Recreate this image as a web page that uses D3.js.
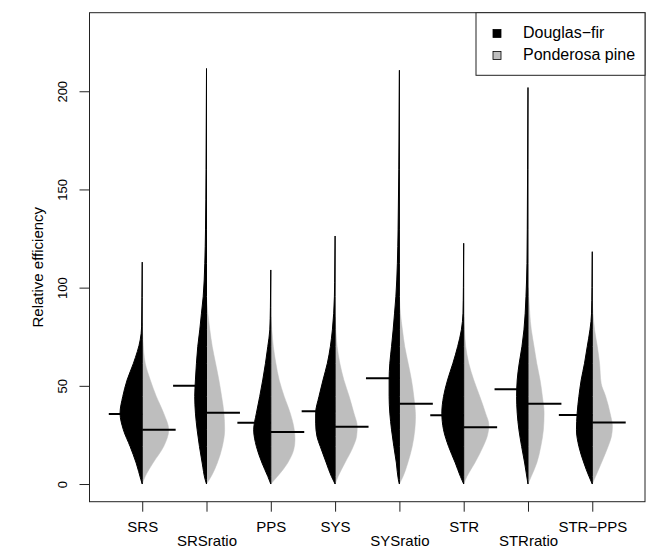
<!DOCTYPE html>
<html>
<head>
<meta charset="utf-8">
<script src="https://cdn.jsdelivr.net/npm/d3@7"></script>
<style>
    body { margin: 0; background: #fff; }
    text { font-family: "Liberation Sans", Arial, sans-serif; }
</style>
</head>
<body>
<div id="chart"></div>
<script>
// sampling designs on the x axis
const categories = ['SRS', 'SRSratio', 'PPS', 'SYS', 'SYSratio', 'STR', 'STRratio', 'STR\u2212PPS'];
// the ratio estimators sit on a second label line
const labelLine = [0, 1, 0, 0, 1, 0, 1, 0];

// bean lines (means) per species
const douglasMean = [35.6, 50.0, 31.2, 37.0, 53.8, 35.0, 48.3, 35.1];
const ponderosaMean = [27.6, 36.3, 26.5, 29.2, 40.9, 28.9, 40.9, 31.3];

// density outlines: [relative efficiency, density]
const douglasDensity = [
    [[0, 0], [2.2, 0.0013], [10.7, 0.006], [19.1, 0.012], [27.6, 0.0187], [36.1, 0.022], [44.6, 0.0193], [53, 0.015], [61.5, 0.0087], [73.4, 0.002], [80, 0.0006], [95, 0.0003], [113, 0]],
    [[0, 0], [2.2, 0.0013], [10.7, 0.0043], [19.1, 0.007], [27.6, 0.0093], [36.1, 0.011], [44.6, 0.0117], [53, 0.011], [61.5, 0.01], [70, 0.0087], [78.5, 0.0067], [87, 0.005], [95.4, 0.0033], [112.4, 0.0017], [129.4, 0.001], [160, 0.0005], [211.6, 0]],
    [[0, 0], [3.9, 0.003], [10.7, 0.0087], [19.1, 0.0143], [27.6, 0.017], [36.1, 0.0143], [44.6, 0.011], [53, 0.008], [61.5, 0.0053], [70, 0.003], [78.5, 0.001], [90, 0.0004], [109, 0]],
    [[0, 0], [3.9, 0.0037], [10.7, 0.0087], [19.1, 0.0147], [24.2, 0.018], [31, 0.0193], [36.1, 0.0193], [44.6, 0.016], [53, 0.012], [61.5, 0.0077], [70, 0.0047], [78.5, 0.0027], [95.4, 0.0007], [110, 0.0003], [126.3, 0]],
    [[0, 0], [2.2, 0.001], [10.7, 0.003], [19.1, 0.0055], [27.6, 0.0078], [36.1, 0.0095], [44.6, 0.0102], [53, 0.0102], [61.5, 0.0095], [70, 0.0078], [78.5, 0.0062], [87, 0.0048], [95.4, 0.0035], [112.4, 0.002], [129.4, 0.0013], [160, 0.0006], [210.7, 0]],
    [[0, 0], [3.9, 0.0033], [10.7, 0.0083], [19.1, 0.015], [27.6, 0.02], [36.1, 0.0217], [44.6, 0.02], [53, 0.016], [61.5, 0.0107], [70, 0.006], [78.5, 0.0023], [87, 0.0007], [100, 0.0003], [122.6, 0]],
    [[0, 0], [2.2, 0.0007], [10.7, 0.0033], [19.1, 0.0063], [27.6, 0.009], [36.1, 0.0107], [44.6, 0.0113], [53, 0.0107], [61.5, 0.0087], [70, 0.006], [78.5, 0.004], [95.4, 0.002], [112.4, 0.001], [129.4, 0.0007], [160, 0.0004], [201.9, 0]],
    [[0, 0], [3.9, 0.0033], [10.7, 0.0083], [19.1, 0.0133], [27.6, 0.0157], [36.1, 0.015], [44.6, 0.0133], [53, 0.011], [61.5, 0.0077], [70, 0.005], [78.5, 0.0023], [87, 0.0007], [100, 0.0003], [118.3, 0]],
];
const ponderosaDensity = [
    [[0, 0], [3.9, 0.003], [10.7, 0.0107], [19.1, 0.0213], [27.6, 0.0263], [36.1, 0.0213], [44.6, 0.014], [53, 0.008], [61.5, 0.003], [73.4, 0.0007], [82, 0]],
    [[0, 0], [3.9, 0.0047], [10.7, 0.0107], [19.1, 0.0157], [27.6, 0.018], [36.1, 0.0173], [44.6, 0.015], [53, 0.0123], [61.5, 0.009], [70, 0.0057], [78.5, 0.0033], [87, 0.0013], [95, 0]],
    [[0, 0], [3.9, 0.0067], [10.7, 0.0167], [17.4, 0.0227], [22.5, 0.024], [27.6, 0.0233], [36.1, 0.0193], [44.6, 0.0133], [53, 0.0083], [61.5, 0.005], [70, 0.0025], [78.5, 0.001], [85, 0]],
    [[0, 0], [3.9, 0.003], [10.7, 0.0097], [19.1, 0.018], [24.2, 0.0213], [29.3, 0.022], [36.1, 0.0187], [44.6, 0.014], [53, 0.0087], [61.5, 0.0047], [70, 0.002], [78.5, 0.0007], [85, 0]],
    [[0, 0], [3.9, 0.0037], [10.7, 0.0083], [19.1, 0.0127], [27.6, 0.0153], [34.4, 0.016], [44.6, 0.0143], [53, 0.012], [61.5, 0.0087], [70, 0.0053], [78.5, 0.003], [87, 0.001], [95, 0]],
    [[0, 0], [3.9, 0.0033], [10.7, 0.011], [19.1, 0.0193], [24.2, 0.0233], [30.2, 0.025], [36.1, 0.0217], [44.6, 0.016], [53, 0.01], [61.5, 0.005], [70, 0.002], [78.5, 0.0007], [85, 0]],
    [[0, 0], [3.9, 0.0033], [10.7, 0.0087], [19.1, 0.0127], [27.6, 0.0153], [36.1, 0.016], [44.6, 0.0143], [53, 0.012], [61.5, 0.0087], [70, 0.006], [78.5, 0.0033], [95.4, 0.0007], [100, 0]],
    [[0, 0], [3.9, 0.0033], [10.7, 0.009], [19.1, 0.0157], [24.2, 0.019], [29.3, 0.02], [36.1, 0.0177], [44.6, 0.0133], [51.3, 0.0088], [61.5, 0.0072], [70, 0.005], [78.5, 0.0023], [87, 0.0007], [92, 0]],
];

const yTicks = [0, 50, 100, 150, 200];
const legendLabels = ['Douglas\u2212fir', 'Ponderosa pine'];
const speciesColors = ['#000000', '#bebebe'];

const width = 654;
const height = 548;
const box = { left: 89.5, right: 645, top: 12.7, bottom: 501.7 };

const svg = d3
    .select('#chart')
    .append('svg')
    .attr('width', width)
    .attr('height', height);

const x = d3.scaleLinear().domain([0.18, categories.length + 0.82]).range([box.left, box.right]);
const y = d3.scaleLinear().domain([-9, 240]).range([box.bottom, box.top]);

const step = x(2) - x(1);
const densityScale = d3.scaleLinear().domain([0, 0.03]).range([0, step * 0.47]);
const beanLine = step * 0.52;

// one half of a bean, side -1 = left, +1 = right
function halfBean(cx, side) {
    return d3
        .area()
        .curve(d3.curveMonotoneY)
        .y((d) => y(d[0]))
        .x0(cx)
        .x1((d) => cx + side * densityScale(d[1]));
}

const beans = svg.append('g');

categories.forEach((c, i) => {
    const cx = x(i + 1);

    // Ponderosa pine on the right
    beans
        .append('path')
        .datum(ponderosaDensity[i].slice().reverse())
        .attr('d', halfBean(cx, 1))
        .attr('fill', speciesColors[1])
        .attr('stroke', speciesColors[1])
        .attr('stroke-width', 0.5);

    // Douglas-fir on the left
    beans
        .append('path')
        .datum(douglasDensity[i].slice().reverse())
        .attr('d', halfBean(cx, -1))
        .attr('fill', speciesColors[0])
        .attr('stroke', '#000')
        .attr('stroke-width', 1);

    beans
        .append('line')
        .attr('x1', cx - beanLine)
        .attr('x2', cx)
        .attr('y1', y(douglasMean[i]))
        .attr('y2', y(douglasMean[i]))
        .attr('stroke', '#000')
        .attr('stroke-width', 2);

    beans
        .append('line')
        .attr('x1', cx)
        .attr('x2', cx + beanLine)
        .attr('y1', y(ponderosaMean[i]))
        .attr('y2', y(ponderosaMean[i]))
        .attr('stroke', '#000')
        .attr('stroke-width', 2);
});

// axes
const yAxis = svg
    .append('g')
    .attr('transform', `translate(${box.left},0)`)
    .call(d3.axisLeft(y).tickValues(yTicks).tickSize(10).tickSizeOuter(0));
yAxis.select('.domain').remove();
yAxis.attr('font-family', null).attr('font-size', 13).attr('color', '#222');
yAxis
    .selectAll('.tick text')
    .attr('transform', 'rotate(-90)')
    .attr('x', 0)
    .attr('y', -22.5)
    .attr('dy', 0)
    .attr('text-anchor', 'middle')
    .attr('fill', '#000');

const xAxis = svg
    .append('g')
    .attr('transform', `translate(0,${box.bottom})`)
    .call(
        d3
            .axisBottom(x)
            .tickValues(d3.range(1, categories.length + 1))
            .tickFormat((d) => categories[d - 1])
            .tickSize(10)
            .tickSizeOuter(0),
    );
xAxis.select('.domain').remove();
xAxis.attr('font-family', null).attr('font-size', 15).attr('color', '#222');
xAxis
    .selectAll('.tick text')
    .attr('dy', 0)
    .attr('y', (d) => (labelLine[d - 1] ? 44 : 30.5))
    .attr('fill', '#000');

// plot frame
svg.append('rect')
    .attr('x', box.left)
    .attr('y', box.top)
    .attr('width', box.right - box.left)
    .attr('height', box.bottom - box.top)
    .attr('fill', 'none')
    .attr('stroke', '#222')
    .attr('stroke-width', 1);

svg.append('text')
    .attr('transform', `translate(43,${(box.top + box.bottom) / 2 + 10}) rotate(-90)`)
    .attr('text-anchor', 'middle')
    .style('font-size', '15px')
    .text('Relative efficiency');

// legend
const legend = svg.append('g');
legend
    .append('rect')
    .attr('x', 476)
    .attr('y', box.top)
    .attr('width', box.right - 476)
    .attr('height', 62.6)
    .attr('fill', '#fff')
    .attr('stroke', '#222')
    .attr('stroke-width', 1);

legendLabels.forEach((label, i) => {
    legend
        .append('rect')
        .attr('x', 493)
        .attr('y', 29.5 + i * 22)
        .attr('width', 8)
        .attr('height', 8)
        .attr('fill', speciesColors[i])
        .attr('stroke', '#000')
        .attr('stroke-width', 0.8);
    legend
        .append('text')
        .attr('x', 523)
        .attr('y', 38 + i * 21.6)
        .style('font-size', '16px')
        .text(label);
});
</script>
</body>
</html>
